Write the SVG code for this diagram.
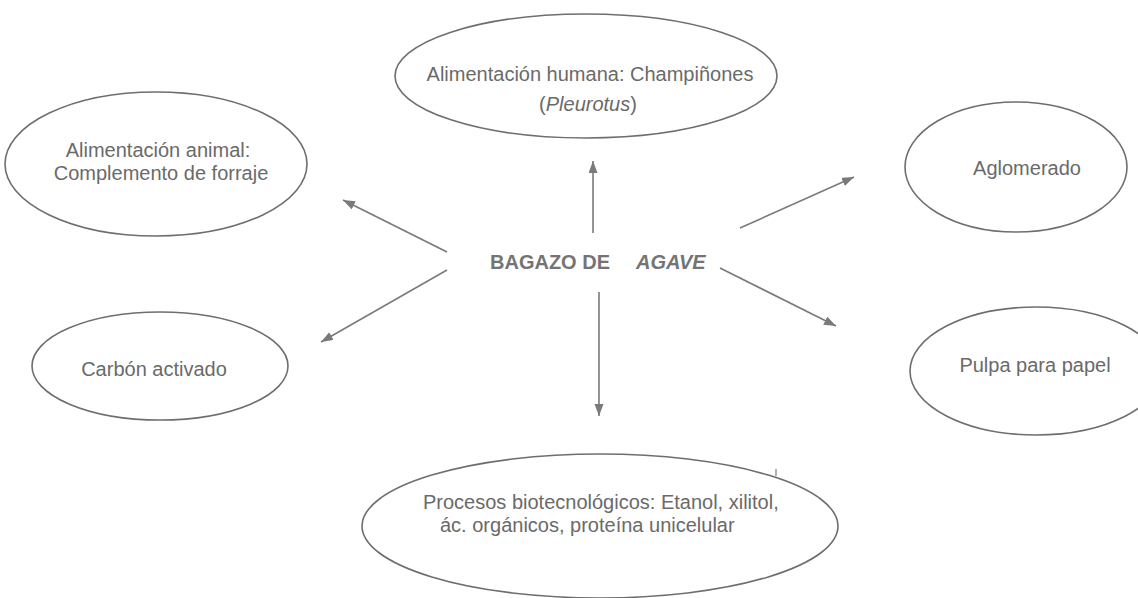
<svg xmlns="http://www.w3.org/2000/svg" width="1138" height="598" viewBox="0 0 1138 598">
<style>
.bg{fill:#ffffff}
.node ellipse{fill:none;stroke:#6e6e6e;stroke-width:1.6}
.lbl{font-family:"Liberation Sans",Arial,sans-serif;font-size:20px;fill:#6a6a6a}
.center{font-family:"Liberation Sans",Arial,sans-serif;font-size:20px;font-weight:bold;fill:#747474}
.conn line{stroke:#7a7a7a;stroke-width:1.6;fill:none}
</style>
<defs>
<marker id="ah" markerUnits="userSpaceOnUse" markerWidth="14" markerHeight="10" refX="12" refY="4.5" orient="auto">
<path d="M0,0 L12,4.5 L0,9 z" fill="#7a7a7a"/>
</marker>
</defs>
<rect class="bg" x="0" y="0" width="1138" height="598"/>

<g id="connectors" class="conn">
<line x1="593" y1="233" x2="593" y2="161" marker-end="url(#ah)"/>
<line x1="599" y1="292" x2="599" y2="416" marker-end="url(#ah)"/>
<line x1="447" y1="252" x2="343" y2="200" marker-end="url(#ah)"/>
<line x1="447" y1="270" x2="321" y2="342" marker-end="url(#ah)"/>
<line x1="740" y1="228" x2="854" y2="177" marker-end="url(#ah)"/>
<line x1="720" y1="268" x2="836" y2="326" marker-end="url(#ah)"/>
</g>

<g id="center-node">
<text class="center" x="490" y="269">BAGAZO DE</text>
<text class="center" x="636" y="269" font-style="italic">AGAVE</text>
</g>

<g id="node-human" class="node">
<ellipse cx="586" cy="76" rx="191" ry="62"/>
<text class="lbl" x="590" y="81" text-anchor="middle" font-size="20.8">Alimentación humana: Champiñones</text>
<text class="lbl" x="588" y="111" text-anchor="middle">(<tspan font-style="italic">Pleurotus</tspan>)</text>
</g>

<g id="node-animal" class="node">
<ellipse cx="156" cy="164" rx="151" ry="72"/>
<text class="lbl" x="158" y="157" text-anchor="middle">Alimentación animal:</text>
<text class="lbl" x="161" y="180" text-anchor="middle">Complemento de forraje</text>
</g>

<g id="node-carbon" class="node">
<ellipse cx="160" cy="366" rx="128" ry="54"/>
<text class="lbl" x="154" y="376" text-anchor="middle">Carbón activado</text>
</g>

<g id="node-aglomerado" class="node">
<ellipse cx="1016" cy="167" rx="111" ry="65"/>
<text class="lbl" x="1027" y="175" text-anchor="middle">Aglomerado</text>
</g>

<g id="node-pulpa" class="node">
<ellipse cx="1036" cy="371" rx="126" ry="64"/>
<text class="lbl" x="1035" y="372" text-anchor="middle">Pulpa para papel</text>
</g>

<g id="node-bio" class="node">
<ellipse cx="600" cy="526" rx="238" ry="72"/>
<line x1="776" y1="469" x2="776" y2="476" stroke="#7a7a7a" stroke-width="1.2"/>
<text class="lbl" x="423" y="509">Procesos biotecnológicos: Etanol, xilitol,</text>
<text class="lbl" x="440" y="532">ác. orgánicos, proteína unicelular</text>
</g>
</svg>
